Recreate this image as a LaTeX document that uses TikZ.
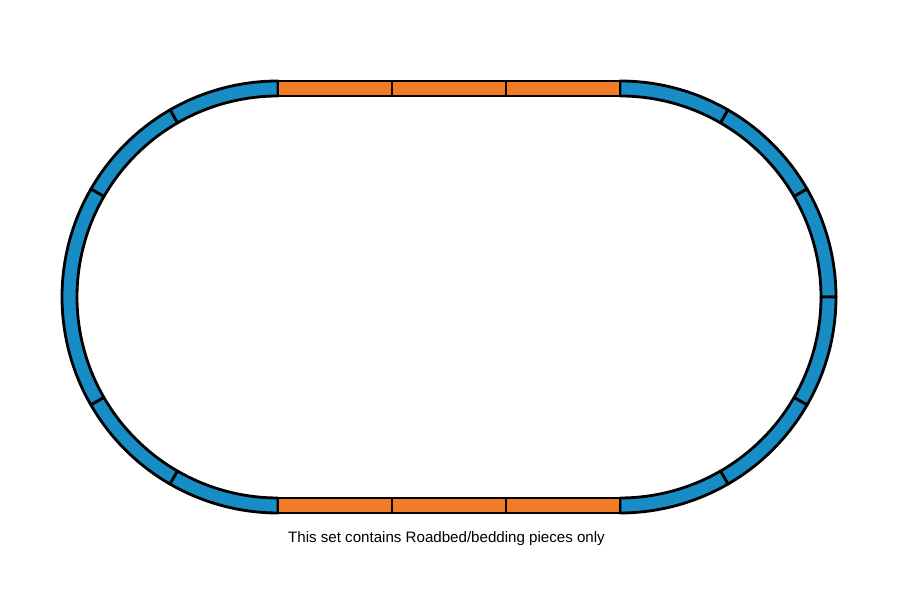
\documentclass[tikz,border=0pt]{standalone}
\usepackage{fontspec}
\setmainfont{Liberation Sans}
\usepackage{xcolor}
\usepackage{tikz}
\definecolor{trackblue}{RGB}{24,140,196}
\definecolor{trackorange}{RGB}{240,124,42}
\tikzset{
    piece/.style={draw=black, line width=0.8pt, line join=round},
    curvepiece/.style={piece, fill=trackblue},
    straightpiece/.style={piece, fill=trackorange}
}

\begin{document}
\begin{tikzpicture}
    \useasboundingbox (0, 0) rectangle (9, 6.01);

    % 左侧弯轨
    \begin{scope}[shift={(2.78, 3.04)}]
        \filldraw[curvepiece] (90:2.16) arc (90:120:2.16) -- (120:2.01) arc (120:90:2.01) -- cycle;
        \filldraw[curvepiece] (120:2.16) arc (120:150:2.16) -- (150:2.01) arc (150:120:2.01) -- cycle;
        \filldraw[curvepiece] (150:2.16) arc (150:210:2.16) -- (210:2.01) arc (210:150:2.01) -- cycle;
        \filldraw[curvepiece] (210:2.16) arc (210:240:2.16) -- (240:2.01) arc (240:210:2.01) -- cycle;
        \filldraw[curvepiece] (240:2.16) arc (240:270:2.16) -- (270:2.01) arc (270:240:2.01) -- cycle;
    \end{scope}

    % 右侧弯轨
    \begin{scope}[shift={(6.20, 3.04)}]
        \foreach \a in {60, 30, 0, -30, -60, -90}
            \filldraw[curvepiece] (\a:2.16) arc (\a:\a+30:2.16) -- (\a+30:2.01) arc (\a+30:\a:2.01) -- cycle;
    \end{scope}

    % 直轨
    \foreach \x in {2.78, 3.92, 5.06} {
        \filldraw[straightpiece] (\x, 5.05) rectangle (\x+1.14, 5.20);
        \filldraw[straightpiece] (\x, 0.88) rectangle (\x+1.14, 1.03);
    }

    % 说明
    \node[font=\fontsize{4.3}{5}\selectfont] (note) at (4.465, 0.62) {This set contains Roadbed/bedding pieces only};
\end{tikzpicture}
\end{document}
